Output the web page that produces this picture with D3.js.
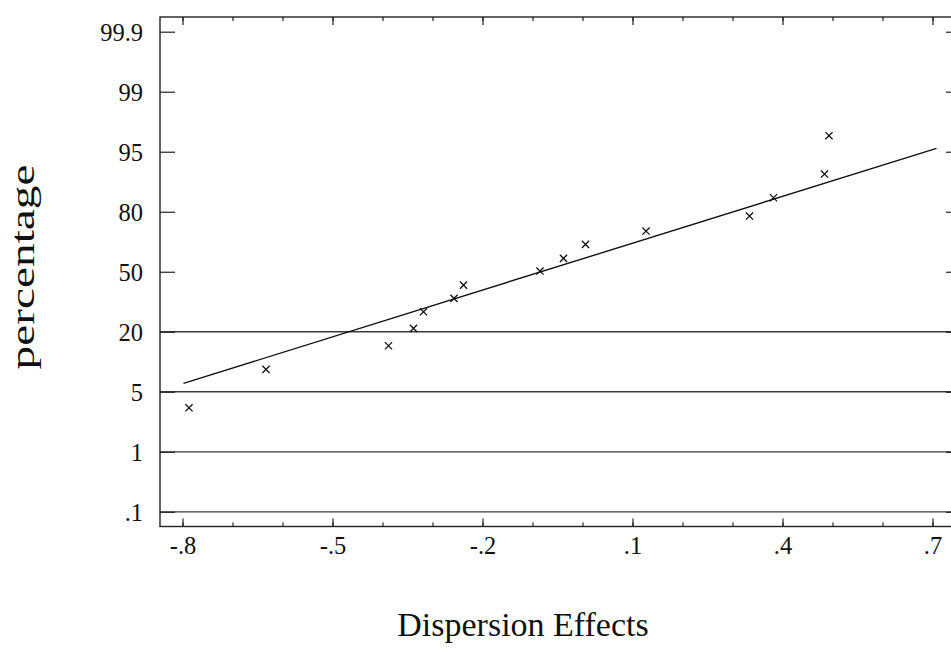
<!DOCTYPE html>
<html>
<head>
<meta charset="utf-8">
<script src="https://cdn.jsdelivr.net/npm/d3@7"></script>
<style>
  html, body { margin: 0; padding: 0; background: #fff; }
  svg { display: block; }
  text { font-family: "Liberation Serif", "DejaVu Serif", serif; fill: #111; }
</style>
</head>
<body>
<svg id="chart" width="951" height="648"></svg>
<script>
// Normal probability plot of dispersion effects
const effects = [-0.787, -0.633, -0.388, -0.338, -0.318, -0.257, -0.238, -0.085,
                 -0.038, 0.006, 0.127, 0.334, 0.382, 0.484, 0.493];
// plotted positions on the probability axis (grid units, .1 = 0 ... 99.9 = 8)
const scores = [1.733, 2.373, 2.767, 3.057, 3.333, 3.557, 3.778, 4.012,
                4.223, 4.457, 4.678, 4.928, 5.233, 5.628, 6.267];
// fitted reference line end points
const fitX = [-0.798, 0.708];
const fitY = [2.14, 6.057];

const percentLabels = [".1", "1", "5", "20", "50", "80", "95", "99", "99.9"];
const ruledLabels = [".1", "1", "5", "20"];
const majorX = [-0.8, -0.5, -0.2, 0.1, 0.4, 0.7];
const minorX = [-0.8, -0.7, -0.6, -0.5, -0.4, -0.3, -0.2, -0.1, 0.0, 0.1, 0.2, 0.3, 0.4, 0.5, 0.6, 0.7];

const svg = d3.select("#chart");
const plotL = 160, plotR = 952, plotT = 17, plotB = 526.5;

const x = d3.scaleLinear().domain([-0.845, 0.739]).range([plotL, plotR]);
const y = d3.scaleLinear().domain([-0.245, 8.245]).range([plotB, plotT]);
const yPos = lab => y(percentLabels.indexOf(lab));

const fmt = v => {
  const s = d3.format(".1f")(Math.abs(v)).replace(/^0\./, ".");
  return (v < -1e-9 ? "-" : "") + s;
};

// horizontal rules at the low percentages
svg.append("g").selectAll("line").data(ruledLabels).join("line")
  .attr("x1", plotL).attr("x2", plotR)
  .attr("y1", d => yPos(d)).attr("y2", d => yPos(d))
  .attr("stroke", "#3a3a3a").attr("stroke-width", 1.3);

// frame
svg.append("rect")
  .attr("x", plotL).attr("y", plotT)
  .attr("width", plotR - plotL).attr("height", plotB - plotT)
  .attr("fill", "none").attr("stroke", "#222").attr("stroke-width", 1.4);

// bottom axis: minor and major ticks pointing inward
const axB = svg.append("g").attr("transform", `translate(0,${plotB})`);
axB.call(d3.axisBottom(x).tickValues(minorX).tickSize(-4).tickFormat(""));
const axBM = svg.append("g").attr("transform", `translate(0,${plotB})`);
axBM.call(d3.axisBottom(x).tickValues(majorX).tickSize(-8).tickPadding(10).tickFormat(fmt));

// top axis ticks
const axT = svg.append("g").attr("transform", `translate(0,${plotT})`);
axT.call(d3.axisTop(x).tickValues(minorX).tickSize(-4).tickFormat(""));
const axTM = svg.append("g").attr("transform", `translate(0,${plotT})`);
axTM.call(d3.axisTop(x).tickValues(majorX).tickSize(-8).tickFormat(""));

// left axis with percentage labels
const axL = svg.append("g").attr("transform", `translate(${plotL},0)`);
axL.call(d3.axisLeft(y).tickValues(d3.range(percentLabels.length)).tickSize(-15).tickPadding(17)
  .tickFormat(i => percentLabels[i]));

// right axis ticks
const axR = svg.append("g").attr("transform", `translate(${plotR},0)`);
axR.call(d3.axisRight(y).tickValues(d3.range(percentLabels.length)).tickSize(-6).tickFormat(""));

svg.selectAll(".domain").remove();
svg.selectAll(".tick line").attr("stroke", "#222").attr("stroke-width", 1.2);
svg.selectAll(".tick text")
  .style("font-family", '"Liberation Serif", serif')
  .style("font-size", "24.5px").attr("fill", "#111");
axL.selectAll(".tick text").attr("dy", "0.34em");

// fitted line
svg.append("line")
  .attr("x1", x(fitX[0])).attr("y1", y(fitY[0]))
  .attr("x2", x(fitX[1])).attr("y2", y(fitY[1]))
  .attr("stroke", "#111").attr("stroke-width", 1.4);

// cross markers
const r = 3.6;
svg.append("g").selectAll("path").data(effects).join("path")
  .attr("d", (d, i) => {
    const cx = x(d), cy = y(scores[i]);
    return `M${cx - r},${cy - r}L${cx + r},${cy + r}M${cx - r},${cy + r}L${cx + r},${cy - r}`;
  })
  .attr("stroke", "#111").attr("stroke-width", 1.3).attr("fill", "none");

// axis titles
svg.append("text")
  .attr("x", 523).attr("y", 636)
  .attr("text-anchor", "middle")
  .style("font-size", "34px")
  .text("Dispersion Effects");

svg.append("text")
  .attr("transform", "translate(34,267) rotate(-90)")
  .attr("text-anchor", "middle")
  .attr("textLength", 205)
  .attr("lengthAdjust", "spacingAndGlyphs")
  .style("font-size", "34px")
  .text("percentage");
</script>
</body>
</html>
